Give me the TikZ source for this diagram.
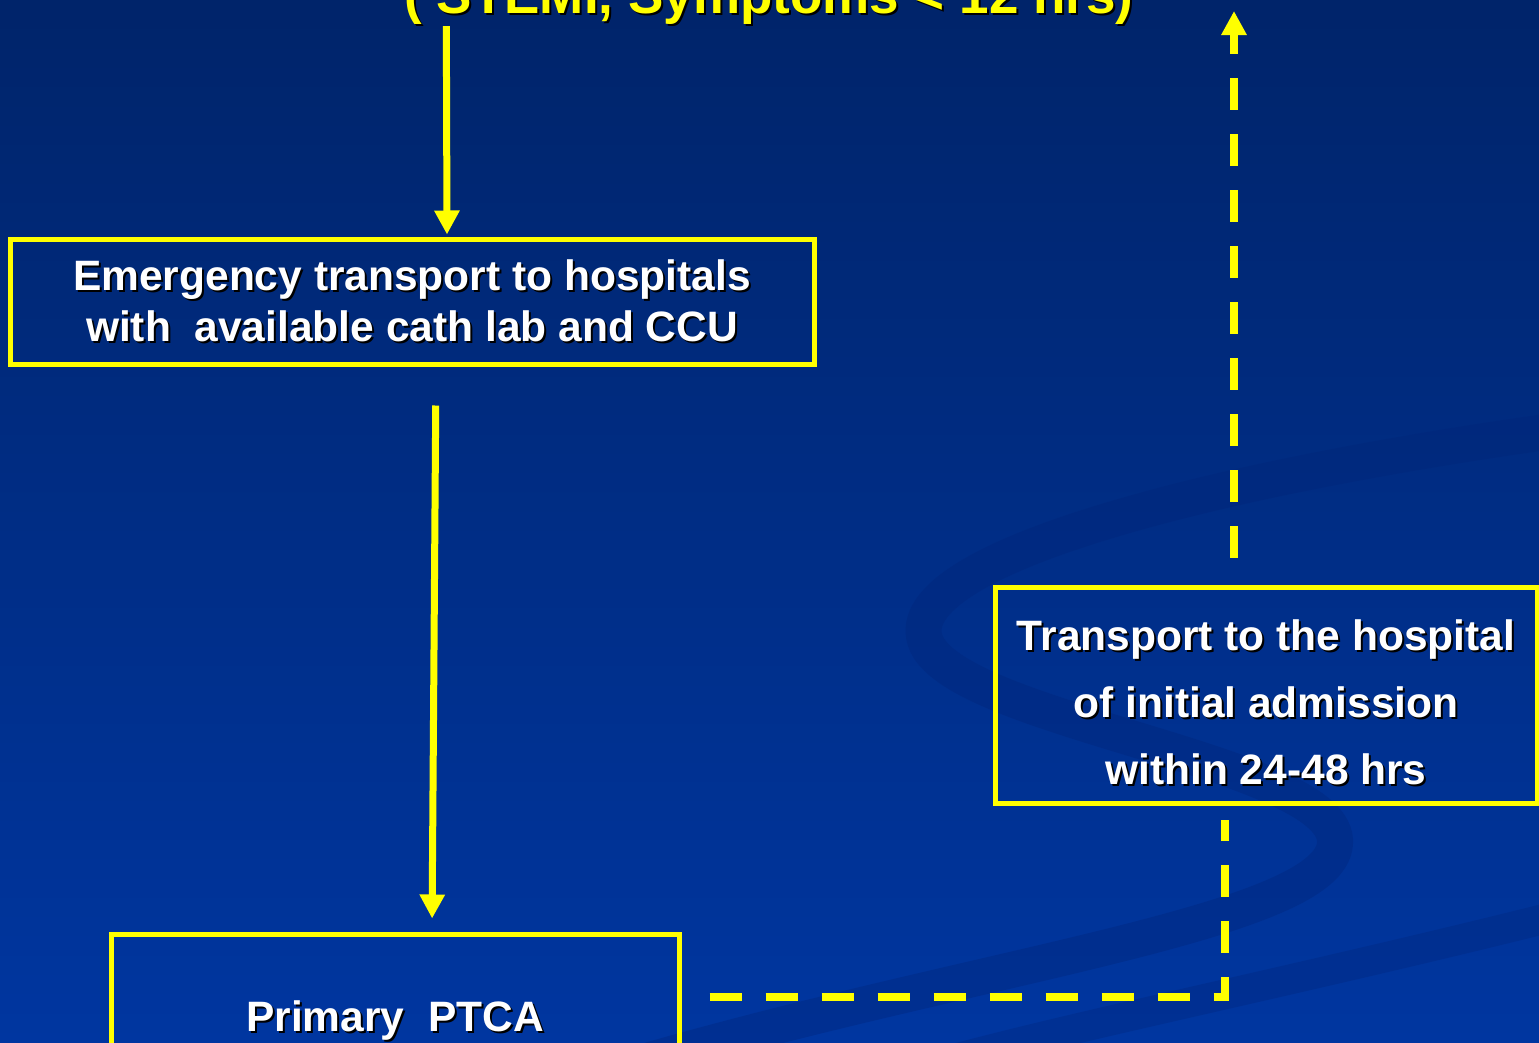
\documentclass[tikz,border=0pt]{standalone}
\usepackage{fontspec}
\setmainfont{Liberation Sans}
\usepackage{xcolor}
\usetikzlibrary{arrows.meta}

\definecolor{slideTop}{RGB}{0,36,106}
\definecolor{slideBottom}{RGB}{0,54,160}
\definecolor{swirlBlue}{RGB}{0,36,120}
\definecolor{flowYellow}{RGB}{255,255,0}

% text with a small black drop shadow
\newcommand{\shadowed}[1]{\leavevmode\rlap{\kern2pt\raisebox{-2pt}{\color{black}#1}}#1}

\begin{document}
\begin{tikzpicture}[x=1pt, y=-1pt,
	flowbox/.style={draw=flowYellow, line width=5pt, text=white, align=center, inner sep=0pt,
		font=\bfseries\fontsize{42.5}{51}\selectfont},
	flowarrow/.style={draw=flowYellow, line width=7pt, -{Triangle[width=24pt, length=24pt]}},
	dashline/.style={draw=flowYellow, line width=8pt, dash pattern=on 32pt off 24pt}]

		% Background
		\useasboundingbox (0,0) rectangle (1539,1042);
		\shade[top color=slideTop, bottom color=slideBottom] (0,0) rectangle (1539,1042);
		\clip (0,0) rectangle (1539,1042);
		\draw[swirlBlue, line width=36pt, opacity=0.35, line cap=round]
			(1560,430) .. controls (1200,480) and (900,560) .. (925,640)
			.. controls (950,720) and (1330,760) .. (1335,840)
			.. controls (1340,920) and (1000,960) .. (650,1060);
		\draw[swirlBlue, line width=30pt, opacity=0.3]
			(1560,915) .. controls (1300,980) and (1100,1020) .. (950,1060);

		% Title (cut by the top edge)
		\node[anchor=base, text=flowYellow, inner sep=0pt,
			font=\bfseries\fontsize{53}{60}\selectfont] (title) at (769,13)
			{\shadowed{( STEMI, Symptoms < 12 hrs)}};

		% First box
		\node[flowbox, minimum width=804pt, minimum height=125pt] (box_transport) at (412,301.5) {
				\shadowed{Emergency transport to hospitals}\\
				\shadowed{with\ \ available cath lab and CCU}
			};

		% Second box
		\node[flowbox, minimum width=542pt, minimum height=216pt,
			font=\bfseries\fontsize{42.5}{67}\selectfont] (box_return) at (1266,695) {%
				\raisebox{-9pt}[\height][\depth]{\begin{tabular}{@{}c@{}}
				\shadowed{Transport to the hospital}\\
				\shadowed{of initial admission}\\
				\shadowed{within 24-48 hrs}
				\end{tabular}}%
			};

		% Third box
		\node[flowbox, minimum width=568pt, minimum height=166pt] (box_ptca) at (395,1017) {%
				\raisebox{-4pt}[\height][\depth]{\shadowed{Primary\ \ PTCA}}%
			};

		\coordinate (turn) at (1225,997);
		\coordinate (back_top) at (1234,11);

		% Arrows between boxes
		\draw[flowarrow, shorten >=2pt] ([xshift=42pt]title.south west) -- ([xshift=35pt]box_transport.north);
		\draw[flowarrow, shorten <=39pt, shorten >=13pt] ([xshift=24pt]box_transport.south) -- ([xshift=37pt]box_ptca.north);

		% Dashed return path
		\draw[dashline, shorten <=28pt, shorten >=14pt] ([yshift=20pt]box_ptca.east) -- (turn) -- (turn |- box_return.south);
		\draw[dashline, shorten <=27pt, -{Triangle[width=24pt, length=24pt]}] (back_top |- box_return.north) -- (back_top);
	\end{tikzpicture}
\end{document}
